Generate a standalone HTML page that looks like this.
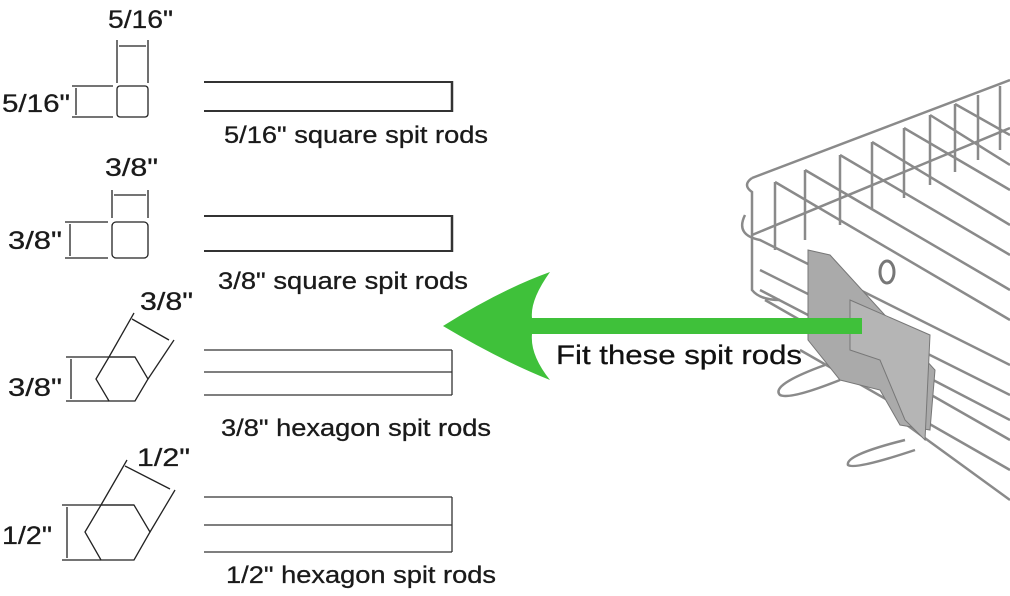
<!DOCTYPE html>
<html><head><meta charset="utf-8"><style>
html,body{margin:0;padding:0;background:#fff;}
svg{display:block;}
</style></head><body>
<svg width="1010" height="596" viewBox="0 0 1010 596" xmlns="http://www.w3.org/2000/svg">
<g font-family="'Liberation Sans', sans-serif" fill="#1a1a1a">
<g stroke="#222" stroke-width="1.3" fill="none">
<line x1="117" y1="40" x2="117" y2="83"/><line x1="148" y1="40" x2="148" y2="83"/>
<line x1="119" y1="46" x2="146" y2="46"/>
<rect x="117" y="86" width="31" height="31" rx="3"/>
<line x1="72" y1="86" x2="113" y2="86"/><line x1="72" y1="117" x2="113" y2="117"/>
<line x1="76" y1="88" x2="76" y2="115"/>
<line x1="112" y1="190" x2="112" y2="218"/><line x1="148" y1="190" x2="148" y2="218"/>
<line x1="114" y1="195" x2="146" y2="195"/>
<rect x="112" y="222" width="36" height="36" rx="4"/>
<line x1="65" y1="222" x2="108" y2="222"/><line x1="65" y1="258" x2="108" y2="258"/>
<line x1="70" y1="224" x2="70" y2="256"/>
<polygon points="96,379 109,357 135,357 148,379 135,401 109,401"/>
<line x1="66" y1="357" x2="135" y2="357"/><line x1="66" y1="401" x2="109" y2="401"/>
<line x1="71" y1="359" x2="71" y2="399"/>
<line x1="109" y1="357" x2="134" y2="313"/><line x1="148" y1="379" x2="174" y2="340"/>
<line x1="132" y1="319" x2="169" y2="340"/>
<polygon points="85,532 101,505 134,505 150,532 134,560 101,560"/>
<line x1="62" y1="505" x2="134" y2="505"/><line x1="62" y1="560" x2="101" y2="560"/>
<line x1="67" y1="507" x2="67" y2="558"/>
<line x1="101" y1="505" x2="127" y2="460"/><line x1="150" y1="532" x2="175" y2="490"/>
<line x1="125" y1="466" x2="170" y2="489"/>
</g>
<g stroke="#333" fill="none">
<line x1="204" y1="82" x2="452" y2="82" stroke-width="2"/><line x1="204" y1="111" x2="452" y2="111" stroke-width="2"/><line x1="452" y1="81" x2="452" y2="112" stroke-width="2.5"/>
<line x1="204" y1="216" x2="452" y2="216" stroke-width="2"/><line x1="204" y1="251" x2="452" y2="251" stroke-width="2"/><line x1="452" y1="215" x2="452" y2="252" stroke-width="2.5"/>
<g stroke-width="1.3">
<line x1="204" y1="350" x2="452" y2="350"/><line x1="204" y1="372" x2="452" y2="372"/><line x1="204" y1="395" x2="452" y2="395"/><line x1="452" y1="350" x2="452" y2="395"/>
<line x1="204" y1="497" x2="452" y2="497"/><line x1="204" y1="525" x2="452" y2="525"/><line x1="204" y1="552" x2="452" y2="552"/><line x1="452" y1="497" x2="452" y2="552"/>
</g>
</g>
<g font-size="25" stroke="#1a1a1a" stroke-width="0.3">
<text x="108" y="28" textLength="65" lengthAdjust="spacingAndGlyphs">5/16"</text>
<text x="2" y="112" textLength="68" lengthAdjust="spacingAndGlyphs">5/16"</text>
<text x="105" y="176" textLength="53" lengthAdjust="spacingAndGlyphs">3/8"</text>
<text x="8" y="249" textLength="54" lengthAdjust="spacingAndGlyphs">3/8"</text>
<text x="140" y="310" textLength="53" lengthAdjust="spacingAndGlyphs">3/8"</text>
<text x="8" y="396" textLength="54" lengthAdjust="spacingAndGlyphs">3/8"</text>
<text x="137" y="466" textLength="53" lengthAdjust="spacingAndGlyphs">1/2"</text>
<text x="2" y="544" textLength="50" lengthAdjust="spacingAndGlyphs">1/2"</text>
</g>
<g font-size="24" stroke="#1a1a1a" stroke-width="0.3">
<text x="224" y="143" textLength="264" lengthAdjust="spacingAndGlyphs">5/16" square spit rods</text>
<text x="218" y="289" textLength="250" lengthAdjust="spacingAndGlyphs">3/8" square spit rods</text>
<text x="221" y="436" textLength="270" lengthAdjust="spacingAndGlyphs">3/8" hexagon spit rods</text>
<text x="226" y="583" textLength="270" lengthAdjust="spacingAndGlyphs">1/2" hexagon spit rods</text>
</g>
<g stroke="#8a8a8a" stroke-width="2.5" fill="none">
<path d="M752 178 L1010 80"/><path d="M752 235 L1010 128"/>
<path d="M752 178 Q742 185 752 192 L752 290 Q760 300 780 300"/>
<path d="M745 215 Q735 235 760 240 L1010 365"/>
<path d="M760 270 L1010 395"/><path d="M760 290 L1010 420"/>
<path d="M765 300 L1010 440"/><path d="M800 350 L1010 470"/><path d="M900 420 L1010 500"/>
<path d="M775 182 L775 250"/><path d="M805 170 L805 240"/><path d="M840 155 L840 225"/><path d="M872 142 L872 210"/><path d="M904 128 L904 198"/><path d="M930 115 L930 185"/><path d="M955 104 L955 172"/><path d="M978 95 L978 160"/><path d="M1000 86 L1000 150"/>
<path d="M775 182 L1010 320"/><path d="M805 170 L1010 290"/><path d="M840 155 L1010 255"/><path d="M872 142 L1010 225"/><path d="M904 128 L1010 190"/><path d="M930 115 L1010 165"/><path d="M955 104 L1010 135"/>
<path d="M825 365 Q770 385 780 395 Q790 400 840 380"/>
<path d="M905 440 Q845 455 848 465 Q855 470 915 450"/>
</g>
<polygon points="808,250 830,255 935,370 930,430 900,425 880,390 840,380 808,340" fill="#aaa" stroke="#777"/>
<polygon points="850,300 930,335 925,440 905,420 880,360 850,350" fill="#b5b5b5" stroke="#777"/>
<ellipse cx="887" cy="272" rx="7" ry="11" fill="none" stroke="#777" stroke-width="3"/>
<path d="M443 326 Q500 290 550 272 Q530 300 532 318 L862 318 L862 334 L532 334 Q530 355 550 380 Q500 360 443 326 Z" fill="#3fc13a"/>
<text x="556" y="364" font-size="27" fill="#111" stroke="#111" stroke-width="0.3" textLength="246" lengthAdjust="spacingAndGlyphs">Fit these spit rods</text>
</g>
</svg>
</body></html>
